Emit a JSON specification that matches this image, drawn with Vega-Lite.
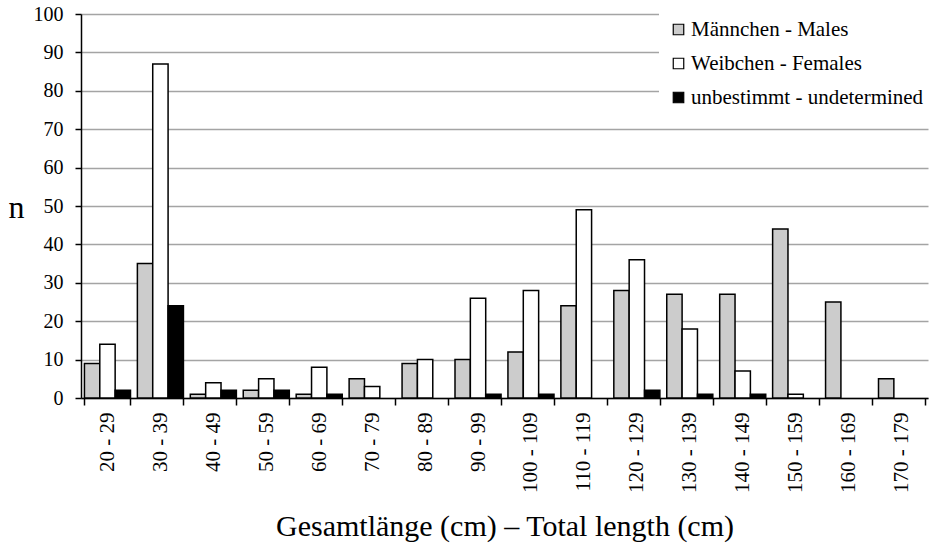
{
  "$schema": "https://vega.github.io/schema/vega-lite/v6.json",
  "width": 847,
  "height": 384,
  "autosize": {"type": "none"},
  "padding": {"left": 81, "top": 14, "right": 3, "bottom": 151},
  "background": "white",
  "config": {
    "font": "Times New Roman, Liberation Serif, serif",
    "view": {"stroke": null},
    "axis": {
      "domainColor": "black",
      "domainWidth": 1.5,
      "tickColor": "black",
      "tickWidth": 1.5,
      "labelColor": "black",
      "titleColor": "black",
      "titleFontWeight": "normal",
      "labelFont": "Times New Roman, Liberation Serif, serif",
      "titleFont": "Times New Roman, Liberation Serif, serif"
    },
    "legend": {
      "labelFont": "Times New Roman, Liberation Serif, serif"
    }
  },
  "data": {
    "values": [
      {"length": "20 - 29", "sex": "Männchen - Males", "n": 9},
      {"length": "20 - 29", "sex": "Weibchen - Females", "n": 14},
      {"length": "20 - 29", "sex": "unbestimmt - undetermined", "n": 2},
      {"length": "30 - 39", "sex": "Männchen - Males", "n": 35},
      {"length": "30 - 39", "sex": "Weibchen - Females", "n": 87},
      {"length": "30 - 39", "sex": "unbestimmt - undetermined", "n": 24},
      {"length": "40 - 49", "sex": "Männchen - Males", "n": 1},
      {"length": "40 - 49", "sex": "Weibchen - Females", "n": 4},
      {"length": "40 - 49", "sex": "unbestimmt - undetermined", "n": 2},
      {"length": "50 - 59", "sex": "Männchen - Males", "n": 2},
      {"length": "50 - 59", "sex": "Weibchen - Females", "n": 5},
      {"length": "50 - 59", "sex": "unbestimmt - undetermined", "n": 2},
      {"length": "60 - 69", "sex": "Männchen - Males", "n": 1},
      {"length": "60 - 69", "sex": "Weibchen - Females", "n": 8},
      {"length": "60 - 69", "sex": "unbestimmt - undetermined", "n": 1},
      {"length": "70 - 79", "sex": "Männchen - Males", "n": 5},
      {"length": "70 - 79", "sex": "Weibchen - Females", "n": 3},
      {"length": "80 - 89", "sex": "Männchen - Males", "n": 9},
      {"length": "80 - 89", "sex": "Weibchen - Females", "n": 10},
      {"length": "90 - 99", "sex": "Männchen - Males", "n": 10},
      {"length": "90 - 99", "sex": "Weibchen - Females", "n": 26},
      {"length": "90 - 99", "sex": "unbestimmt - undetermined", "n": 1},
      {"length": "100 - 109", "sex": "Männchen - Males", "n": 12},
      {"length": "100 - 109", "sex": "Weibchen - Females", "n": 28},
      {"length": "100 - 109", "sex": "unbestimmt - undetermined", "n": 1},
      {"length": "110 - 119", "sex": "Männchen - Males", "n": 24},
      {"length": "110 - 119", "sex": "Weibchen - Females", "n": 49},
      {"length": "120 - 129", "sex": "Männchen - Males", "n": 28},
      {"length": "120 - 129", "sex": "Weibchen - Females", "n": 36},
      {"length": "120 - 129", "sex": "unbestimmt - undetermined", "n": 2},
      {"length": "130 - 139", "sex": "Männchen - Males", "n": 27},
      {"length": "130 - 139", "sex": "Weibchen - Females", "n": 18},
      {"length": "130 - 139", "sex": "unbestimmt - undetermined", "n": 1},
      {"length": "140 - 149", "sex": "Männchen - Males", "n": 27},
      {"length": "140 - 149", "sex": "Weibchen - Females", "n": 7},
      {"length": "140 - 149", "sex": "unbestimmt - undetermined", "n": 1},
      {"length": "150 - 159", "sex": "Männchen - Males", "n": 44},
      {"length": "150 - 159", "sex": "Weibchen - Females", "n": 1},
      {"length": "160 - 169", "sex": "Männchen - Males", "n": 25},
      {"length": "170 - 179", "sex": "Männchen - Males", "n": 5}
    ]
  },
  "mark": {"type": "bar", "stroke": "black", "strokeWidth": 1.5},
  "encoding": {
    "x": {
      "field": "length",
      "type": "nominal",
      "sort": null,
      "scale": {"paddingInner": 0.13, "paddingOuter": 0.065},
      "axis": {
        "title": "Gesamtlänge (cm) – Total length (cm)",
        "titleFontSize": 30,
        "titleY": 137,
        "titleBaseline": "alphabetic",
        "labelAngle": 270,
        "labelAlign": "right",
        "labelBaseline": "middle",
        "labelFontSize": 21,
        "labelPadding": 7,
        "tickBand": "extent",
        "tickSize": 7,
        "grid": false
      }
    },
    "xOffset": {
      "field": "sex",
      "type": "nominal",
      "sort": ["Männchen - Males", "Weibchen - Females", "unbestimmt - undetermined"],
      "scale": {"domain": ["Männchen - Males", "Weibchen - Females", "unbestimmt - undetermined"], "paddingInner": 0, "paddingOuter": 0}
    },
    "y": {
      "field": "n",
      "type": "quantitative",
      "scale": {"domain": [0, 100], "nice": false},
      "axis": {
        "values": [0, 10, 20, 30, 40, 50, 60, 70, 80, 90, 100],
        "title": "n",
        "titleAngle": 0,
        "titleFontSize": 32,
        "titleX": -65,
        "titleY": 203,
        "titleAlign": "center",
        "titleBaseline": "alphabetic",
        "labelFontSize": 20,
        "labelPadding": 12,
        "tickSize": 6,
        "grid": true,
        "gridColor": "#a4a4a4",
        "gridWidth": 1.5
      }
    },
    "fill": {
      "field": "sex",
      "type": "nominal",
      "scale": {
        "domain": ["Männchen - Males", "Weibchen - Females", "unbestimmt - undetermined"],
        "range": ["#cccccc", "#ffffff", "#000000"]
      },
      "legend": {
        "title": null,
        "orient": "none",
        "legendX": 578,
        "legendY": -4,
        "padding": 9,
        "fillColor": "white",
        "symbolType": "square",
        "symbolSize": 110,
        "symbolStrokeColor": "black",
        "symbolStrokeWidth": 1.2,
        "labelFontSize": 21,
        "labelColor": "black",
        "labelOffset": 2,
        "rowPadding": 12,
        "labelLimit": 300
      }
    }
  }
}
